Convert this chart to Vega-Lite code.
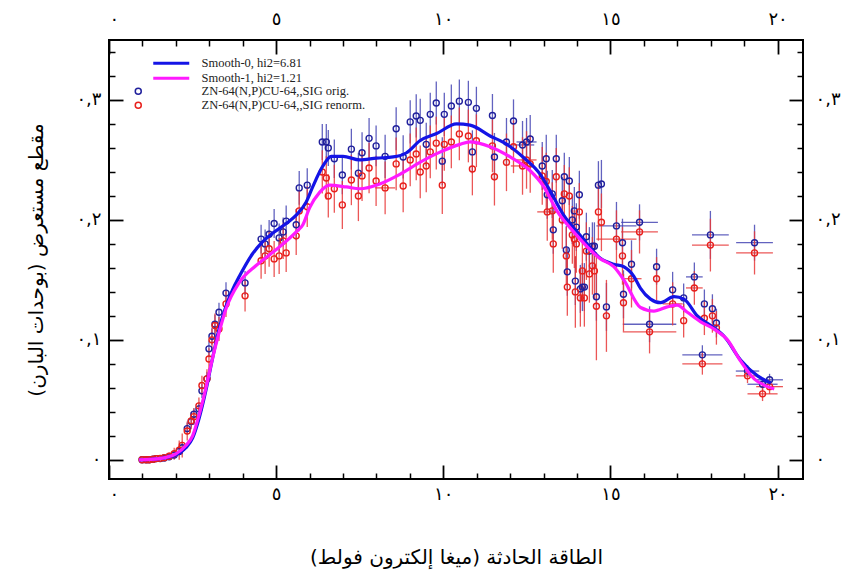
{
  "$schema": "https://vega.github.io/schema/vega-lite/v6.json",
  "autosize": "none",
  "width": 694,
  "height": 439,
  "padding": {"left": 109, "top": 40, "right": 42, "bottom": 97},
  "background": "white",
  "config": {
    "view": {"stroke": "black", "strokeWidth": 2},
    "axis": {"grid": false, "domain": false, "tickColor": "black", "labelColor": "black", "titleColor": "black", "labelFont": "DejaVu Sans", "titleFont": "DejaVu Sans", "titleFontWeight": "normal"}
  },
  "datasets": {
    "orig": [
      {"x":0.99,"y":0.0,"ey":0.001,"ex":0},{"x":1.11,"y":0.0,"ey":0.001,"ex":0},{"x":1.2,"y":0.0,"ey":0.001,"ex":0},{"x":1.32,"y":0.0005,"ey":0.001,"ex":0},{"x":1.41,"y":0.001,"ey":0.001,"ex":0},{"x":1.53,"y":0.001,"ey":0.001,"ex":0},{"x":1.65,"y":0.0015,"ey":0.0015,"ex":0},{"x":1.8,"y":0.0025,"ey":0.002,"ex":0},{"x":1.95,"y":0.004,"ey":0.003,"ex":0},{"x":2.1,"y":0.007,"ey":0.004,"ex":0},{"x":2.19,"y":0.01,"ey":0.005,"ex":0},{"x":2.34,"y":0.026,"ey":0.005,"ex":0},{"x":2.46,"y":0.032,"ey":0.005,"ex":0},{"x":2.54,"y":0.038,"ey":0.005,"ex":0},{"x":2.69,"y":0.0425,"ey":0.005,"ex":0},{"x":2.78,"y":0.0575,"ey":0.006,"ex":0},{"x":2.93,"y":0.0675,"ey":0.006,"ex":0},{"x":2.99,"y":0.0925,"ey":0.007,"ex":0},{"x":3.08,"y":0.103,"ey":0.007,"ex":0},{"x":3.17,"y":0.113,"ey":0.008,"ex":0},{"x":3.29,"y":0.123,"ey":0.008,"ex":0},{"x":3.5,"y":0.139,"ey":0.009,"ex":0},{"x":4.07,"y":0.1475,"ey":0.01,"ex":0},{"x":4.55,"y":0.184,"ey":0.012,"ex":0},{"x":4.67,"y":0.18,"ey":0.012,"ex":0},{"x":4.79,"y":0.188,"ey":0.012,"ex":0},{"x":4.94,"y":0.197,"ey":0.012,"ex":0},{"x":5.09,"y":0.185,"ey":0.012,"ex":0},{"x":5.21,"y":0.19,"ey":0.012,"ex":0},{"x":5.3,"y":0.199,"ey":0.013,"ex":0},{"x":5.6,"y":0.196,"ey":0.013,"ex":0},{"x":5.69,"y":0.2267,"ey":0.014,"ex":0},{"x":5.93,"y":0.229,"ey":0.014,"ex":0},{"x":6.38,"y":0.265,"ey":0.015,"ex":0},{"x":6.5,"y":0.265,"ey":0.015,"ex":0},{"x":6.56,"y":0.26,"ey":0.015,"ex":0},{"x":6.74,"y":0.251,"ey":0.016,"ex":0},{"x":6.98,"y":0.2375,"ey":0.016,"ex":0},{"x":7.25,"y":0.259,"ey":0.017,"ex":0},{"x":7.46,"y":0.239,"ey":0.017,"ex":0},{"x":7.57,"y":0.256,"ey":0.017,"ex":0},{"x":7.78,"y":0.268,"ey":0.017,"ex":0},{"x":7.99,"y":0.2617,"ey":0.017,"ex":0},{"x":8.26,"y":0.253,"ey":0.018,"ex":0},{"x":8.59,"y":0.276,"ey":0.018,"ex":0},{"x":8.8,"y":0.2525,"ey":0.018,"ex":0},{"x":9.01,"y":0.2817,"ey":0.018,"ex":0},{"x":9.19,"y":0.2867,"ey":0.018,"ex":0},{"x":9.31,"y":0.283,"ey":0.018,"ex":0},{"x":9.49,"y":0.263,"ey":0.018,"ex":0},{"x":9.61,"y":0.288,"ey":0.018,"ex":0},{"x":9.79,"y":0.2975,"ey":0.018,"ex":0},{"x":9.97,"y":0.249,"ey":0.02,"ex":0},{"x":10.03,"y":0.288,"ey":0.018,"ex":0},{"x":10.24,"y":0.295,"ey":0.018,"ex":0},{"x":10.48,"y":0.299,"ey":0.018,"ex":0},{"x":10.75,"y":0.298,"ey":0.018,"ex":0},{"x":10.87,"y":0.2567,"ey":0.018,"ex":0},{"x":10.99,"y":0.293,"ey":0.018,"ex":0},{"x":11.47,"y":0.287,"ey":0.018,"ex":0},{"x":11.53,"y":0.2525,"ey":0.02,"ex":0},{"x":11.89,"y":0.265,"ey":0.02,"ex":0},{"x":12.1,"y":0.2825,"ey":0.018,"ex":0},{"x":12.37,"y":0.2625,"ey":0.02,"ex":0.35},{"x":12.49,"y":0.265,"ey":0.02,"ex":0.3},{"x":12.6,"y":0.2675,"ey":0.02,"ex":0},{"x":12.96,"y":0.245,"ey":0.02,"ex":0},{"x":13.08,"y":0.251,"ey":0.02,"ex":0},{"x":13.11,"y":0.221,"ey":0.02,"ex":0},{"x":13.26,"y":0.2217,"ey":0.02,"ex":0},{"x":13.29,"y":0.1917,"ey":0.02,"ex":0},{"x":13.38,"y":0.251,"ey":0.02,"ex":0},{"x":13.56,"y":0.216,"ey":0.02,"ex":0},{"x":13.62,"y":0.236,"ey":0.02,"ex":0},{"x":13.68,"y":0.175,"ey":0.02,"ex":0},{"x":13.71,"y":0.1567,"ey":0.02,"ex":0},{"x":13.77,"y":0.2325,"ey":0.02,"ex":0},{"x":13.86,"y":0.2,"ey":0.02,"ex":0},{"x":13.92,"y":0.2075,"ey":0.02,"ex":0},{"x":13.95,"y":0.149,"ey":0.02,"ex":0},{"x":13.98,"y":0.194,"ey":0.02,"ex":0},{"x":14.07,"y":0.221,"ey":0.02,"ex":0},{"x":14.1,"y":0.1425,"ey":0.02,"ex":0},{"x":14.16,"y":0.144,"ey":0.02,"ex":0},{"x":14.22,"y":0.144,"ey":0.02,"ex":0},{"x":14.28,"y":0.186,"ey":0.02,"ex":0},{"x":14.37,"y":0.174,"ey":0.02,"ex":0},{"x":14.46,"y":0.178,"ey":0.02,"ex":0},{"x":14.52,"y":0.178,"ey":0.02,"ex":0},{"x":14.58,"y":0.136,"ey":0.02,"ex":0},{"x":14.64,"y":0.229,"ey":0.02,"ex":0},{"x":14.73,"y":0.23,"ey":0.02,"ex":0},{"x":14.88,"y":0.1275,"ey":0.02,"ex":0},{"x":15.18,"y":0.195,"ey":0.02,"ex":0.6},{"x":15.36,"y":0.181,"ey":0.02,"ex":0},{"x":15.39,"y":0.138,"ey":0.02,"ex":0},{"x":15.63,"y":0.163,"ey":0.02,"ex":0},{"x":15.87,"y":0.198,"ey":0.015,"ex":0.55},{"x":16.17,"y":0.113,"ey":0.015,"ex":0.8},{"x":16.38,"y":0.161,"ey":0.015,"ex":0},{"x":16.86,"y":0.1417,"ey":0.015,"ex":0},{"x":17.19,"y":0.135,"ey":0.012,"ex":0},{"x":17.51,"y":0.1525,"ey":0.012,"ex":0.25},{"x":17.75,"y":0.0875,"ey":0.008,"ex":0.6},{"x":17.81,"y":0.13,"ey":0.012,"ex":0},{"x":17.99,"y":0.1875,"ey":0.02,"ex":0.55},{"x":18.05,"y":0.126,"ey":0.012,"ex":0},{"x":18.17,"y":0.114,"ey":0.012,"ex":0},{"x":19.1,"y":0.074,"ey":0.005,"ex":0.35},{"x":19.31,"y":0.181,"ey":0.015,"ex":0.55},{"x":19.55,"y":0.063,"ey":0.005,"ex":0.45},{"x":19.76,"y":0.0667,"ey":0.005,"ex":0.4}
    ],
    "renorm": [
      {"x":0.99,"y":0.0,"ey":0.001,"ex":0},{"x":1.11,"y":0.0,"ey":0.001,"ex":0},{"x":1.2,"y":0.0,"ey":0.001,"ex":0},{"x":1.32,"y":0.0005,"ey":0.001,"ex":0},{"x":1.41,"y":0.001,"ey":0.001,"ex":0},{"x":1.53,"y":0.0012,"ey":0.002,"ex":0},{"x":1.65,"y":0.0018,"ey":0.002,"ex":0},{"x":1.8,"y":0.003,"ey":0.003,"ex":0},{"x":1.95,"y":0.005,"ey":0.005,"ex":0},{"x":2.1,"y":0.008,"ey":0.008,"ex":0},{"x":2.19,"y":0.012,"ey":0.01,"ex":0},{"x":2.34,"y":0.024,"ey":0.008,"ex":0},{"x":2.46,"y":0.0325,"ey":0.007,"ex":0},{"x":2.54,"y":0.036,"ey":0.007,"ex":0},{"x":2.69,"y":0.045,"ey":0.007,"ex":0},{"x":2.78,"y":0.062,"ey":0.008,"ex":0},{"x":2.93,"y":0.0675,"ey":0.008,"ex":0},{"x":2.99,"y":0.084,"ey":0.009,"ex":0},{"x":3.08,"y":0.1,"ey":0.009,"ex":0},{"x":3.17,"y":0.112,"ey":0.01,"ex":0},{"x":3.29,"y":0.109,"ey":0.01,"ex":0},{"x":3.5,"y":0.13,"ey":0.011,"ex":0},{"x":4.07,"y":0.1367,"ey":0.013,"ex":0},{"x":4.55,"y":0.166,"ey":0.015,"ex":0},{"x":4.67,"y":0.17,"ey":0.015,"ex":0},{"x":4.79,"y":0.176,"ey":0.015,"ex":0},{"x":4.94,"y":0.1675,"ey":0.015,"ex":0},{"x":5.09,"y":0.17,"ey":0.015,"ex":0},{"x":5.21,"y":0.1825,"ey":0.015,"ex":0},{"x":5.3,"y":0.1725,"ey":0.016,"ex":0},{"x":5.6,"y":0.1867,"ey":0.016,"ex":0},{"x":5.69,"y":0.2075,"ey":0.017,"ex":0},{"x":5.93,"y":0.211,"ey":0.017,"ex":0},{"x":6.38,"y":0.24,"ey":0.018,"ex":0},{"x":6.5,"y":0.235,"ey":0.018,"ex":0},{"x":6.56,"y":0.22,"ey":0.018,"ex":0},{"x":6.74,"y":0.226,"ey":0.02,"ex":0},{"x":6.98,"y":0.2125,"ey":0.02,"ex":0},{"x":7.25,"y":0.2333,"ey":0.021,"ex":0},{"x":7.46,"y":0.22,"ey":0.021,"ex":0},{"x":7.57,"y":0.2367,"ey":0.021,"ex":0},{"x":7.78,"y":0.2433,"ey":0.021,"ex":0},{"x":7.99,"y":0.2325,"ey":0.021,"ex":0},{"x":8.26,"y":0.2267,"ey":0.022,"ex":0.3},{"x":8.59,"y":0.2467,"ey":0.022,"ex":0},{"x":8.8,"y":0.2283,"ey":0.022,"ex":0},{"x":9.01,"y":0.25,"ey":0.022,"ex":0},{"x":9.19,"y":0.255,"ey":0.022,"ex":0},{"x":9.31,"y":0.24,"ey":0.022,"ex":0},{"x":9.49,"y":0.245,"ey":0.022,"ex":0},{"x":9.61,"y":0.2567,"ey":0.022,"ex":0},{"x":9.79,"y":0.264,"ey":0.022,"ex":0},{"x":9.97,"y":0.229,"ey":0.024,"ex":0},{"x":10.03,"y":0.263,"ey":0.022,"ex":0},{"x":10.24,"y":0.265,"ey":0.022,"ex":0},{"x":10.48,"y":0.2717,"ey":0.022,"ex":0},{"x":10.75,"y":0.27,"ey":0.022,"ex":0},{"x":10.87,"y":0.2425,"ey":0.022,"ex":0},{"x":10.99,"y":0.266,"ey":0.022,"ex":0},{"x":11.47,"y":0.2617,"ey":0.022,"ex":0},{"x":11.53,"y":0.236,"ey":0.024,"ex":0},{"x":11.89,"y":0.248,"ey":0.024,"ex":0},{"x":12.1,"y":0.261,"ey":0.022,"ex":0},{"x":12.37,"y":0.245,"ey":0.024,"ex":0.35},{"x":12.49,"y":0.25,"ey":0.024,"ex":0.3},{"x":12.6,"y":0.2467,"ey":0.024,"ex":0},{"x":12.96,"y":0.2367,"ey":0.024,"ex":0},{"x":13.08,"y":0.232,"ey":0.024,"ex":0},{"x":13.11,"y":0.2067,"ey":0.024,"ex":0.3},{"x":13.26,"y":0.2075,"ey":0.024,"ex":0},{"x":13.29,"y":0.18,"ey":0.024,"ex":0},{"x":13.38,"y":0.236,"ey":0.024,"ex":0},{"x":13.56,"y":0.2,"ey":0.024,"ex":0},{"x":13.62,"y":0.2217,"ey":0.024,"ex":0},{"x":13.68,"y":0.17,"ey":0.024,"ex":0},{"x":13.71,"y":0.144,"ey":0.024,"ex":0},{"x":13.77,"y":0.22,"ey":0.024,"ex":0},{"x":13.86,"y":0.1875,"ey":0.024,"ex":0},{"x":13.92,"y":0.184,"ey":0.024,"ex":0},{"x":13.95,"y":0.14,"ey":0.03,"ex":0},{"x":13.98,"y":0.18,"ey":0.024,"ex":0},{"x":14.07,"y":0.2067,"ey":0.024,"ex":0},{"x":14.1,"y":0.135,"ey":0.024,"ex":0},{"x":14.16,"y":0.1575,"ey":0.024,"ex":0},{"x":14.22,"y":0.135,"ey":0.024,"ex":0},{"x":14.28,"y":0.174,"ey":0.024,"ex":0},{"x":14.37,"y":0.155,"ey":0.024,"ex":0},{"x":14.46,"y":0.1617,"ey":0.024,"ex":0},{"x":14.52,"y":0.1575,"ey":0.024,"ex":0},{"x":14.58,"y":0.128,"ey":0.045,"ex":0},{"x":14.64,"y":0.2067,"ey":0.024,"ex":0},{"x":14.73,"y":0.198,"ey":0.024,"ex":0},{"x":14.88,"y":0.12,"ey":0.03,"ex":0},{"x":15.18,"y":0.184,"ey":0.024,"ex":0.6},{"x":15.36,"y":0.17,"ey":0.024,"ex":0},{"x":15.39,"y":0.131,"ey":0.024,"ex":0},{"x":15.63,"y":0.151,"ey":0.024,"ex":0.3},{"x":15.87,"y":0.19,"ey":0.018,"ex":0.55},{"x":16.17,"y":0.1067,"ey":0.018,"ex":0.8},{"x":16.38,"y":0.151,"ey":0.018,"ex":0},{"x":16.86,"y":0.13,"ey":0.018,"ex":0.3},{"x":17.19,"y":0.116,"ey":0.014,"ex":0},{"x":17.51,"y":0.1433,"ey":0.014,"ex":0.25},{"x":17.75,"y":0.08,"ey":0.009,"ex":0.6},{"x":17.81,"y":0.118,"ey":0.014,"ex":0},{"x":17.99,"y":0.179,"ey":0.022,"ex":0.55},{"x":18.05,"y":0.12,"ey":0.014,"ex":0},{"x":18.17,"y":0.11,"ey":0.014,"ex":0},{"x":19.1,"y":0.07,"ey":0.006,"ex":0.35},{"x":19.31,"y":0.1725,"ey":0.018,"ex":0.55},{"x":19.55,"y":0.055,"ey":0.006,"ex":0.45},{"x":19.76,"y":0.061,"ey":0.006,"ex":0.4}
    ],
    "smooth": [
      {"s":"Smooth-0, hi2=6.81","x":0.9,"y":0.0},{"s":"Smooth-0, hi2=6.81","x":1.5,"y":0.001},{"s":"Smooth-0, hi2=6.81","x":2.0,"y":0.004},{"s":"Smooth-0, hi2=6.81","x":2.3,"y":0.01},{"s":"Smooth-0, hi2=6.81","x":2.5,"y":0.018},{"s":"Smooth-0, hi2=6.81","x":2.7,"y":0.035},{"s":"Smooth-0, hi2=6.81","x":2.9,"y":0.058},{"s":"Smooth-0, hi2=6.81","x":3.1,"y":0.085},{"s":"Smooth-0, hi2=6.81","x":3.3,"y":0.11},{"s":"Smooth-0, hi2=6.81","x":3.5,"y":0.128},{"s":"Smooth-0, hi2=6.81","x":3.7,"y":0.142},{"s":"Smooth-0, hi2=6.81","x":3.9,"y":0.153},{"s":"Smooth-0, hi2=6.81","x":4.3,"y":0.172},{"s":"Smooth-0, hi2=6.81","x":4.6,"y":0.182},{"s":"Smooth-0, hi2=6.81","x":4.9,"y":0.189},{"s":"Smooth-0, hi2=6.81","x":5.3,"y":0.197},{"s":"Smooth-0, hi2=6.81","x":5.6,"y":0.204},{"s":"Smooth-0, hi2=6.81","x":5.9,"y":0.215},{"s":"Smooth-0, hi2=6.81","x":6.1,"y":0.228},{"s":"Smooth-0, hi2=6.81","x":6.4,"y":0.245},{"s":"Smooth-0, hi2=6.81","x":6.65,"y":0.253},{"s":"Smooth-0, hi2=6.81","x":7.0,"y":0.253},{"s":"Smooth-0, hi2=6.81","x":7.5,"y":0.25},{"s":"Smooth-0, hi2=6.81","x":8.0,"y":0.2515},{"s":"Smooth-0, hi2=6.81","x":8.5,"y":0.2525},{"s":"Smooth-0, hi2=6.81","x":8.9,"y":0.256},{"s":"Smooth-0, hi2=6.81","x":9.3,"y":0.266},{"s":"Smooth-0, hi2=6.81","x":9.8,"y":0.272},{"s":"Smooth-0, hi2=6.81","x":10.4,"y":0.28},{"s":"Smooth-0, hi2=6.81","x":10.8,"y":0.279},{"s":"Smooth-0, hi2=6.81","x":11.4,"y":0.27},{"s":"Smooth-0, hi2=6.81","x":11.9,"y":0.263},{"s":"Smooth-0, hi2=6.81","x":12.4,"y":0.252},{"s":"Smooth-0, hi2=6.81","x":12.9,"y":0.238},{"s":"Smooth-0, hi2=6.81","x":13.2,"y":0.224},{"s":"Smooth-0, hi2=6.81","x":13.6,"y":0.204},{"s":"Smooth-0, hi2=6.81","x":14.1,"y":0.187},{"s":"Smooth-0, hi2=6.81","x":14.7,"y":0.168},{"s":"Smooth-0, hi2=6.81","x":15.1,"y":0.163},{"s":"Smooth-0, hi2=6.81","x":15.4,"y":0.161},{"s":"Smooth-0, hi2=6.81","x":15.7,"y":0.153},{"s":"Smooth-0, hi2=6.81","x":15.9,"y":0.143},{"s":"Smooth-0, hi2=6.81","x":16.2,"y":0.134},{"s":"Smooth-0, hi2=6.81","x":16.5,"y":0.131},{"s":"Smooth-0, hi2=6.81","x":16.9,"y":0.136},{"s":"Smooth-0, hi2=6.81","x":17.2,"y":0.134},{"s":"Smooth-0, hi2=6.81","x":17.6,"y":0.12},{"s":"Smooth-0, hi2=6.81","x":18.0,"y":0.112},{"s":"Smooth-0, hi2=6.81","x":18.4,"y":0.103},{"s":"Smooth-0, hi2=6.81","x":18.9,"y":0.083},{"s":"Smooth-0, hi2=6.81","x":19.4,"y":0.07},{"s":"Smooth-0, hi2=6.81","x":19.8,"y":0.064},
      {"s":"Smooth-1, hi2=1.21","x":0.9,"y":0.0},{"s":"Smooth-1, hi2=1.21","x":1.5,"y":0.001},{"s":"Smooth-1, hi2=1.21","x":2.0,"y":0.005},{"s":"Smooth-1, hi2=1.21","x":2.3,"y":0.012},{"s":"Smooth-1, hi2=1.21","x":2.5,"y":0.02},{"s":"Smooth-1, hi2=1.21","x":2.7,"y":0.038},{"s":"Smooth-1, hi2=1.21","x":2.9,"y":0.06},{"s":"Smooth-1, hi2=1.21","x":3.1,"y":0.085},{"s":"Smooth-1, hi2=1.21","x":3.3,"y":0.107},{"s":"Smooth-1, hi2=1.21","x":3.5,"y":0.126},{"s":"Smooth-1, hi2=1.21","x":3.9,"y":0.148},{"s":"Smooth-1, hi2=1.21","x":4.4,"y":0.162},{"s":"Smooth-1, hi2=1.21","x":4.9,"y":0.173},{"s":"Smooth-1, hi2=1.21","x":5.6,"y":0.19},{"s":"Smooth-1, hi2=1.21","x":5.8,"y":0.196},{"s":"Smooth-1, hi2=1.21","x":6.0,"y":0.21},{"s":"Smooth-1, hi2=1.21","x":6.3,"y":0.223},{"s":"Smooth-1, hi2=1.21","x":6.6,"y":0.229},{"s":"Smooth-1, hi2=1.21","x":7.1,"y":0.2275},{"s":"Smooth-1, hi2=1.21","x":7.5,"y":0.226},{"s":"Smooth-1, hi2=1.21","x":8.1,"y":0.23},{"s":"Smooth-1, hi2=1.21","x":8.7,"y":0.238},{"s":"Smooth-1, hi2=1.21","x":9.3,"y":0.248},{"s":"Smooth-1, hi2=1.21","x":9.9,"y":0.2565},{"s":"Smooth-1, hi2=1.21","x":10.5,"y":0.263},{"s":"Smooth-1, hi2=1.21","x":10.8,"y":0.265},{"s":"Smooth-1, hi2=1.21","x":11.4,"y":0.261},{"s":"Smooth-1, hi2=1.21","x":12.0,"y":0.2525},{"s":"Smooth-1, hi2=1.21","x":12.6,"y":0.241},{"s":"Smooth-1, hi2=1.21","x":13.0,"y":0.228},{"s":"Smooth-1, hi2=1.21","x":13.4,"y":0.2075},{"s":"Smooth-1, hi2=1.21","x":13.9,"y":0.19},{"s":"Smooth-1, hi2=1.21","x":14.7,"y":0.1675},{"s":"Smooth-1, hi2=1.21","x":15.1,"y":0.161},{"s":"Smooth-1, hi2=1.21","x":15.4,"y":0.15},{"s":"Smooth-1, hi2=1.21","x":15.9,"y":0.127},{"s":"Smooth-1, hi2=1.21","x":16.3,"y":0.124},{"s":"Smooth-1, hi2=1.21","x":16.7,"y":0.1275},{"s":"Smooth-1, hi2=1.21","x":17.0,"y":0.129},{"s":"Smooth-1, hi2=1.21","x":17.3,"y":0.123},{"s":"Smooth-1, hi2=1.21","x":17.7,"y":0.115},{"s":"Smooth-1, hi2=1.21","x":18.1,"y":0.109},{"s":"Smooth-1, hi2=1.21","x":18.5,"y":0.1},{"s":"Smooth-1, hi2=1.21","x":18.9,"y":0.082},{"s":"Smooth-1, hi2=1.21","x":19.3,"y":0.0675},{"s":"Smooth-1, hi2=1.21","x":19.7,"y":0.061},{"s":"Smooth-1, hi2=1.21","x":19.9,"y":0.059}
    ]
  },
  "resolve": {"scale": {"x": "shared", "y": "shared"}, "axis": {"x": "independent", "y": "independent"}},
  "layer": [
    {
      "data": {"name": "orig"},
      "mark": {"type": "errorbar", "color": "#4646b4", "thickness": 1.3, "opacity": 0.85},
      "encoding": {
        "x": {"field": "x", "type": "quantitative", "scale": {"domain": [0, 20.76], "nice": false, "zero": false},
          "axis": {"orient": "bottom", "values": [0, 5, 10, 15, 20], "tickSize": -14, "tickWidth": 1.8, "labelFontSize": 18, "labelPadding": 20, "labelExpr": "datum.value==0?'٠':datum.value==5?'٥':datum.value==10?'١٠':datum.value==15?'١٥':'٢٠'", "title": "‏الطاقة الحادثة (ميغا إلكترون فولط)‏", "titleFontSize": 20, "titlePadding": 44}},
        "y": {"field": "y", "type": "quantitative", "scale": {"domain": [-0.016, 0.35], "nice": false, "zero": false},
          "axis": {"orient": "left", "values": [0, 0.1, 0.2, 0.3], "tickSize": -14, "tickWidth": 1.8, "labelFontSize": 18, "labelPadding": 22, "labelExpr": "datum.value==0?'٠':datum.value<0.15?'٠,١':datum.value<0.25?'٠,٢':'٠,٣'", "title": "‏مقطع مستعرض (بوحدات البارن)‏", "titleFontSize": 20, "titlePadding": 29}},
        "yError": {"field": "ey"}
      }
    },
    {
      "data": {"name": "orig"},
      "mark": {"type": "errorbar", "color": "#4646b4", "thickness": 1.3, "opacity": 0.85},
      "encoding": {
        "y": {"field": "y", "type": "quantitative", "scale": {"domain": [-0.016, 0.35], "nice": false, "zero": false},
          "axis": {"orient": "right", "values": [0, 0.1, 0.2, 0.3], "tickSize": -14, "tickWidth": 1.8, "labelFontSize": 18, "labelPadding": 26, "labelExpr": "datum.value==0?'٠':datum.value<0.15?'٠,١':datum.value<0.25?'٠,٢':'٠,٣'", "title": null}},
        "x": {"field": "x", "type": "quantitative", "scale": {"domain": [0, 20.76], "nice": false, "zero": false},
          "axis": {"orient": "top", "values": [0, 5, 10, 15, 20], "tickSize": -14, "tickWidth": 1.8, "labelFontSize": 18, "labelPadding": 26, "labelExpr": "datum.value==0?'٠':datum.value==5?'٥':datum.value==10?'١٠':datum.value==15?'١٥':'٢٠'", "title": null}},
        "xError": {"field": "ex"}
      }
    },
    {
      "data": {"name": "renorm"},
      "mark": {"type": "errorbar", "color": "#e83838", "thickness": 1.3, "opacity": 0.85},
      "encoding": {
        "x": {"field": "x", "type": "quantitative", "scale": {"domain": [0, 20.76], "nice": false, "zero": false},
          "axis": {"orient": "bottom", "values": [1,2,3,4,6,7,8,9,11,12,13,14,16,17,18,19], "tickSize": -6, "tickWidth": 1.5, "labels": false, "title": null}},
        "y": {"field": "y", "type": "quantitative", "scale": {"domain": [-0.016, 0.35], "nice": false, "zero": false},
          "axis": {"orient": "left", "values": [0.02,0.04,0.06,0.08,0.12,0.14,0.16,0.18,0.22,0.24,0.26,0.28,0.32,0.34], "tickSize": -6, "tickWidth": 1.5, "labels": false, "title": null}},
        "yError": {"field": "ey"}
      }
    },
    {
      "data": {"name": "renorm"},
      "mark": {"type": "errorbar", "color": "#e83838", "thickness": 1.3, "opacity": 0.85},
      "encoding": {
        "y": {"field": "y", "type": "quantitative", "scale": {"domain": [-0.016, 0.35], "nice": false, "zero": false},
          "axis": {"orient": "right", "values": [0.02,0.04,0.06,0.08,0.12,0.14,0.16,0.18,0.22,0.24,0.26,0.28,0.32,0.34], "tickSize": -6, "tickWidth": 1.5, "labels": false, "title": null}},
        "x": {"field": "x", "type": "quantitative", "scale": {"domain": [0, 20.76], "nice": false, "zero": false},
          "axis": {"orient": "top", "values": [1,2,3,4,6,7,8,9,11,12,13,14,16,17,18,19], "tickSize": -6, "tickWidth": 1.5, "labels": false, "title": null}},
        "xError": {"field": "ex"}
      }
    },
    {
      "data": {"name": "orig"},
      "mark": {"type": "point", "shape": "circle", "filled": false, "size": 36, "strokeWidth": 1.4, "opacity": 1},
      "encoding": {
        "x": {"field": "x", "type": "quantitative", "scale": {"domain": [0, 20.76], "nice": false, "zero": false}, "axis": null},
        "y": {"field": "y", "type": "quantitative", "scale": {"domain": [-0.016, 0.35], "nice": false, "zero": false}, "axis": null},
        "color": {"datum": "ZN-64(N,P)CU-64,,SIG orig.", "type": "nominal",
          "scale": {"domain": ["ZN-64(N,P)CU-64,,SIG orig.", "ZN-64(N,P)CU-64,,SIG renorm."], "range": ["#20209c", "#e8201c"]},
          "legend": {"orient": "none", "legendX": 23, "legendY": 45, "title": null, "symbolType": "circle", "symbolSize": 36, "symbolStrokeWidth": 1.5, "labelFont": "Liberation Serif", "labelFontSize": 12.5, "labelColor": "#222", "labelOffset": 57, "labelLimit": 400, "rowPadding": 1, "padding": 0}}
      }
    },
    {
      "data": {"name": "renorm"},
      "mark": {"type": "point", "shape": "circle", "filled": false, "size": 36, "strokeWidth": 1.4, "opacity": 1},
      "encoding": {
        "x": {"field": "x", "type": "quantitative", "scale": {"domain": [0, 20.76], "nice": false, "zero": false}, "axis": null},
        "y": {"field": "y", "type": "quantitative", "scale": {"domain": [-0.016, 0.35], "nice": false, "zero": false}, "axis": null},
        "color": {"datum": "ZN-64(N,P)CU-64,,SIG renorm.", "type": "nominal"}
      }
    },
    {
      "data": {"name": "smooth"},
      "mark": {"type": "line", "strokeWidth": 3.2, "interpolate": "monotone"},
      "encoding": {
        "x": {"field": "x", "type": "quantitative", "scale": {"domain": [0, 20.76], "nice": false, "zero": false}, "axis": null},
        "y": {"field": "y", "type": "quantitative", "scale": {"domain": [-0.016, 0.35], "nice": false, "zero": false}, "axis": null},
        "stroke": {"field": "s", "type": "nominal",
          "scale": {"domain": ["Smooth-0, hi2=6.81", "Smooth-1, hi2=1.21"], "range": ["#1414e6", "#ff1aff"]},
          "legend": {"orient": "none", "legendX": 56, "legendY": 17, "title": null, "symbolType": "M-6,0H6", "symbolSize": 36, "symbolStrokeWidth": 3.2, "labelFont": "Liberation Serif", "labelFontSize": 12.5, "labelColor": "#222", "labelOffset": 24, "labelLimit": 400, "rowPadding": 1, "padding": 0}}
      }
    }
  ]
}
